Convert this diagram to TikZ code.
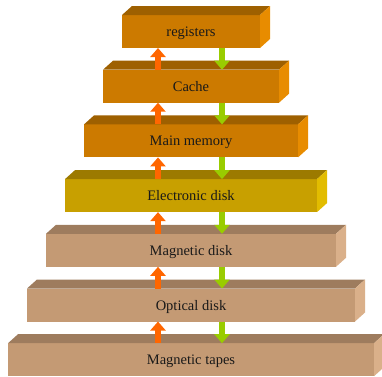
\documentclass[tikz,border=0pt]{standalone}
\usepackage{fontspec}
\setmainfont{Liberation Serif}
\usetikzlibrary{arrows.meta,calc}

% face colours of the three kinds of storage
\definecolor{fast-front}{RGB}{204,122,0}
\definecolor{fast-top}{RGB}{158,96,0}
\definecolor{fast-side}{RGB}{232,140,0}
\definecolor{elec-front}{RGB}{200,160,0}
\definecolor{elec-top}{RGB}{156,122,0}
\definecolor{elec-side}{RGB}{226,188,0}
\definecolor{slow-front}{RGB}{196,154,116}
\definecolor{slow-top}{RGB}{158,124,94}
\definecolor{slow-side}{RGB}{218,176,138}
\definecolor{uporange}{RGB}{255,102,0}
\definecolor{downgreen}{RGB}{153,204,0}

\begin{document}
\begin{tikzpicture}[x=1pt,y=-1pt,
  level/.style={minimum width=#1, minimum height=33pt, inner sep=0pt, outer sep=0pt,
    text height=10pt, text depth=0pt, text=black!90,
    font=\fontsize{14.5}{17}\selectfont},
  uparr/.style={draw=uporange, line width=6pt, -{Triangle[width=15pt,length=9pt]}},
  downarr/.style={draw=downgreen, line width=6pt, -{Triangle[width=15pt,length=9pt]}}]
\useasboundingbox (0,0) rectangle (382,376);

% Front faces of the levels
\node[level=138, fill=fast-front] (reg) at (191,31.5) {registers};
\node[level=176, fill=fast-front] (cache) at (191,86.2) {Cache};
\node[level=214, fill=fast-front] (mainmem) at (191,140.9) {Main memory};
\node[level=252, fill=elec-front] (edisk) at (191,195.6) {Electronic disk};
\node[level=290, fill=slow-front] (mdisk) at (191,250.3) {Magnetic disk};
\node[level=328, fill=slow-front] (odisk) at (191,305) {Optical disk};
\node[level=366, fill=slow-front] (tapes) at (191,359.7) {Magnetic tapes};

% Top and side faces
\foreach \n/\c in {reg/fast, cache/fast, mainmem/fast, edisk/elec,
                   mdisk/slow, odisk/slow, tapes/slow} {
  \fill[\c-top] (\n.north west) -- ++(10,-9) -- ($(\n.north east)+(10,-9)$)
    -- (\n.north east) -- cycle;
  \fill[\c-side] (\n.north east) -- ++(10,-9) -- ($(\n.south east)+(10,-9)$)
    -- (\n.south east) -- cycle;
}

% Transfers between neighbouring levels
\foreach \lo/\hi in {cache/reg, mainmem/cache, edisk/mainmem, mdisk/edisk,
                     odisk/mdisk, tapes/odisk} {
  \draw[uparr] ($(\lo.north)+(-33,0)$) -- ($(\hi.south)+(-33,0)$);
  \draw[downarr] ($(\hi.south)+(31,0)$) -- ($(\lo.north)+(31,0)$);
}
\end{tikzpicture}
\end{document}
